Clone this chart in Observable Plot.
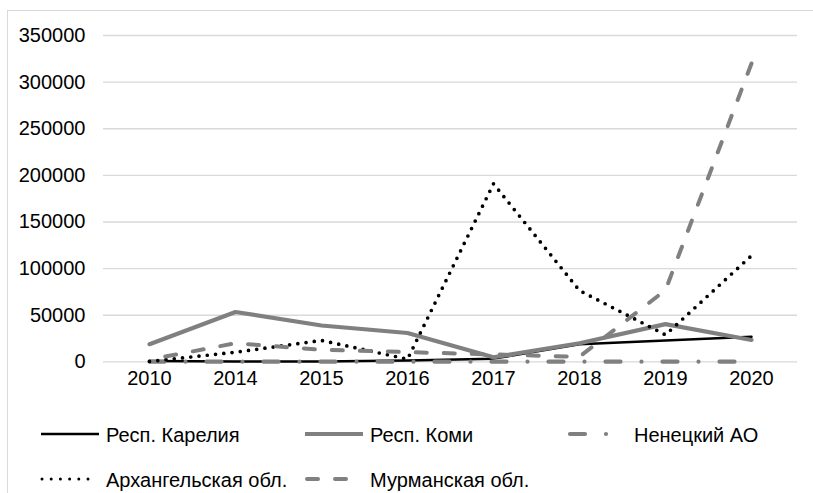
<!DOCTYPE html>
<html><head><meta charset="utf-8">
<script src="https://cdn.jsdelivr.net/npm/d3@7"></script>
<script src="https://cdn.jsdelivr.net/npm/@observablehq/plot@0.6"></script>
<style>
body{margin:0;background:#fff;font-family:"Liberation Sans",Arial,sans-serif;}
#wrap{position:relative;width:813px;height:493px;overflow:hidden;background:#fff;}
#chart{position:absolute;left:0;top:0;}
#chart svg{display:block;}
#legend{position:absolute;left:0;top:400px;}
#frame{position:absolute;left:7px;top:10px;width:900px;height:600px;border-left:1px solid #d9d9d9;border-top:1px solid #d9d9d9;pointer-events:none;}
</style></head>
<body>
<div id="wrap"><div id="chart"></div><svg id="legend" width="813" height="93"></svg><div id="frame"></div></div>
<script>
const years = ["2010","2014","2015","2016","2017","2018","2019","2020"];
const yTicks = [0,50000,100000,150000,200000,250000,300000,350000];
const seriesNames = ["Респ. Карелия","Респ. Коми","Ненецкий АО","Архангельская обл.","Мурманская обл."];
const karelia = [1000, 500, 500, 1500, 3500, 19000, 23000, 27000];
const komi    = [19000, 53500, 39000, 31000, 5000, 20000, 40500, 23500];
const nenets  = [300, 200, 200, 200, 200, 200, 200, 200];
const arkh    = [500, 10400, 23000, 3000, 191000, 76500, 29000, 114000];
const murm    = [2500, 20000, 13000, 10500, 8000, 5500, 77000, 320000];

const values = [karelia, komi, nenets, arkh, murm];
const styles = [
  {stroke:"#000000", strokeWidth:2.5, dash:null},
  {stroke:"#808080", strokeWidth:4.2, dash:null},
  {stroke:"#808080", strokeWidth:4.2, dash:"15,21,0,21"},
  {stroke:"#000000", strokeWidth:3.7, dash:"0,8.3"},
  {stroke:"#808080", strokeWidth:4, dash:"11,17"}
];

const lineMarks = values.map((vals, i) => {
  const rows = years.map((y, j) => ({year: y, value: vals[j], series: seriesNames[i]}));
  const s = styles[i];
  return Plot.line(rows, {x:"year", y:"value", stroke:s.stroke, strokeWidth:s.strokeWidth,
    strokeDasharray:s.dash || undefined, strokeLinecap:"round", strokeLinejoin:"round"});
});

const chart = Plot.plot({
  width: 813, height: 400,
  marginLeft: 103, marginRight: 16, marginTop: 35, marginBottom: 38.6,
  x: {type:"point", domain: years, padding: 0.5},
  y: {domain: [0, 350000]},
  style: {fontFamily:"'Liberation Sans', Arial, sans-serif", fontSize:"20px", color:"#000", background:"transparent"},
  marks: [
    Plot.gridY(yTicks, {stroke:"#d9d9d9", strokeOpacity:1, strokeWidth:1.3}),
    Plot.axisY(yTicks, {tickSize:0, tickPadding:18, tickFormat:d => String(d), label:null, fontSize:20}),
    Plot.axisX({tickSize:0, tickPadding:9, label:null, fontSize:20}),
    ...lineMarks
  ]
});
document.getElementById("chart").appendChild(chart);

// make the Мурманская dash pattern end with a full dash at the 2020 point
try {
  const murmPath = chart.querySelector('g[stroke-dasharray="11,17"] path');
  if (murmPath && murmPath.getTotalLength) {
    const L = murmPath.getTotalLength();
    const period = 28;
    const off = ((11 - L) % period + period) % period;
    murmPath.setAttribute("stroke-dashoffset", off);
  }
} catch (e) {}

// legend
const legendPos = [
  {x1:41, x2:99, ly:34, tx:106, ty:41.7},
  {x1:305, x2:363, ly:34, tx:370, ty:41.7},
  {x1:570, x2:627, ly:34, tx:634, ty:41.7},
  {x1:42, x2:97, ly:79, tx:106, ty:86.7},
  {x1:307, x2:363, ly:79, tx:370, ty:86.7}
];
const lg = d3.select("#legend");
seriesNames.forEach((name, i) => {
  const p = legendPos[i], s = styles[i];
  const ln = lg.append("line").attr("x1", p.x1).attr("x2", p.x2).attr("y1", p.ly).attr("y2", p.ly)
    .attr("stroke", s.stroke).attr("stroke-width", i === 3 ? 3 : s.strokeWidth)
    .attr("stroke-linecap", s.dash ? "round" : "butt");
  if (s.dash) ln.attr("stroke-dasharray", i === 3 ? "0,9.2" : s.dash);
  lg.append("text").attr("x", p.tx).attr("y", p.ty).text(name)
    .attr("font-family", "'Liberation Sans', Arial, sans-serif").attr("font-size", 20).attr("fill", "#000");
});
</script>
</body></html>
